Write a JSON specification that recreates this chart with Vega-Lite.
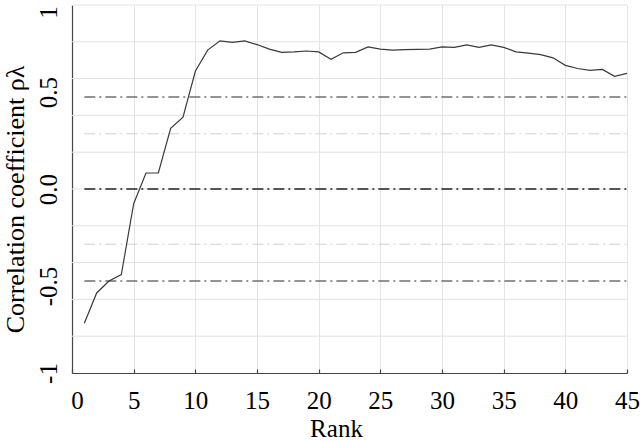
{
  "$schema": "https://vega.github.io/schema/vega-lite/v6.json",
  "width": 555,
  "height": 368,
  "autosize": {"type": "none"},
  "padding": {"left": 72, "top": 5, "right": 13, "bottom": 68},
  "background": "white",
  "view": {"stroke": null},
  "config": {
    "font": "'Liberation Serif', 'DejaVu Serif'",
    "axis": {"labelFont": "'Liberation Serif', 'DejaVu Serif'", "titleFont": "'Liberation Serif', 'DejaVu Serif'", "labelColor": "black", "titleColor": "black", "titleFontWeight": "normal"}
  },
  "datasets": {
    "curve": [
      {"rank": 1, "rho": -0.73}, {"rank": 2, "rho": -0.565}, {"rank": 3, "rho": -0.5},
      {"rank": 4, "rho": -0.465}, {"rank": 5, "rho": -0.08}, {"rank": 6, "rho": 0.087},
      {"rank": 7, "rho": 0.087}, {"rank": 8, "rho": 0.33}, {"rank": 9, "rho": 0.39},
      {"rank": 10, "rho": 0.64}, {"rank": 11, "rho": 0.755}, {"rank": 12, "rho": 0.805},
      {"rank": 13, "rho": 0.797}, {"rank": 14, "rho": 0.805}, {"rank": 15, "rho": 0.785},
      {"rank": 16, "rho": 0.76}, {"rank": 17, "rho": 0.743}, {"rank": 18, "rho": 0.745},
      {"rank": 19, "rho": 0.75}, {"rank": 20, "rho": 0.745}, {"rank": 21, "rho": 0.705},
      {"rank": 22, "rho": 0.74}, {"rank": 23, "rho": 0.743}, {"rank": 24, "rho": 0.772},
      {"rank": 25, "rho": 0.76}, {"rank": 26, "rho": 0.755}, {"rank": 27, "rho": 0.758},
      {"rank": 28, "rho": 0.759}, {"rank": 29, "rho": 0.76}, {"rank": 30, "rho": 0.772},
      {"rank": 31, "rho": 0.77}, {"rank": 32, "rho": 0.783}, {"rank": 33, "rho": 0.77},
      {"rank": 34, "rho": 0.783}, {"rank": 35, "rho": 0.77}, {"rank": 36, "rho": 0.745},
      {"rank": 37, "rho": 0.738}, {"rank": 38, "rho": 0.73}, {"rank": 39, "rho": 0.713},
      {"rank": 40, "rho": 0.672}, {"rank": 41, "rho": 0.655}, {"rank": 42, "rho": 0.645},
      {"rank": 43, "rho": 0.65}, {"rank": 44, "rho": 0.612}, {"rank": 45, "rho": 0.628}
    ],
    "hgrid": [
      {"y": -0.8}, {"y": -0.6}, {"y": -0.4}, {"y": -0.2}, {"y": 0},
      {"y": 0.2}, {"y": 0.4}, {"y": 0.6}, {"y": 0.8}, {"y": 1}
    ],
    "darkRefs": [{"y": 0.5, "x1": 1, "x2": 45}, {"y": -0.5, "x1": 1, "x2": 45}],
    "zeroRef": [{"y": 0, "x1": 1, "x2": 45}],
    "lightRefs": [{"y": 0.3, "x1": 1, "x2": 45}, {"y": -0.3, "x1": 1, "x2": 45}]
  },
  "layer": [
    {
      "data": {"name": "hgrid"},
      "mark": {"type": "rule", "color": "#e3e3e3", "strokeWidth": 1},
      "encoding": {
        "y": {"field": "y", "type": "quantitative", "scale": {"domain": [-1, 1], "nice": false}}
      }
    },
    {
      "data": {"name": "lightRefs"},
      "mark": {"type": "rule", "color": "#cfcfcf", "strokeWidth": 1, "strokeDash": [11, 4, 2, 4]},
      "encoding": {
        "y": {"field": "y", "type": "quantitative"},
        "x": {"field": "x1", "type": "quantitative", "scale": {"domain": [0, 45], "nice": false}},
        "x2": {"field": "x2"}
      }
    },
    {
      "data": {"name": "darkRefs"},
      "mark": {"type": "rule", "color": "#707070", "strokeWidth": 1.5, "strokeDash": [11, 4, 2, 4]},
      "encoding": {
        "y": {"field": "y", "type": "quantitative"},
        "x": {"field": "x1", "type": "quantitative"},
        "x2": {"field": "x2"}
      }
    },
    {
      "data": {"name": "zeroRef"},
      "mark": {"type": "rule", "color": "#555555", "strokeWidth": 2, "strokeDash": [11, 4, 2, 4]},
      "encoding": {
        "y": {"field": "y", "type": "quantitative"},
        "x": {"field": "x1", "type": "quantitative"},
        "x2": {"field": "x2"}
      }
    },
    {
      "data": {"name": "curve"},
      "mark": {"type": "line", "color": "#3a3a3a", "strokeWidth": 1.2},
      "encoding": {
        "x": {
          "field": "rank", "type": "quantitative", "title": "Rank",
          "axis": {
            "values": [0, 5, 10, 15, 20, 25, 30, 35, 40, 45],
            "grid": true, "gridColor": "#e3e3e3", "gridWidth": 1,
            "domainColor": "#444444", "domainWidth": 1.2,
            "ticks": true, "tickSize": -4, "tickColor": "#444444", "tickWidth": 1.2,
            "labelFontSize": 25, "labelBaseline": "alphabetic", "labelPadding": 39,
            "labelOffset": {"condition": {"test": "datum.value == 0", "value": 5}, "value": 0},
            "labelFlush": false, "labelOverlap": false,
            "titleFontSize": 25, "titleX": 264, "titleY": 63, "titleBaseline": "alphabetic", "titleAlign": "center"
          }
        },
        "y": {
          "field": "rho", "type": "quantitative", "title": "Correlation coefficient ρλ",
          "axis": {
            "values": [-1, -0.5, 0, 0.5, 1],
            "grid": false,
            "domainColor": "#444444", "domainWidth": 1.2,
            "ticks": false,
            "labelExpr": "abs(datum.value) < 0.01 ? '0.0' : replace(format(datum.value, '.1~f'), '\u2212', '-')",
            "labelFontSize": 25, "labelAngle": -90, "labelAlign": "center", "labelBaseline": "alphabetic", "labelPadding": 16,
            "labelOffset": {"condition": [{"test": "datum.value == 1", "value": 7}, {"test": "datum.value == 0.5", "value": -5}, {"test": "datum.value == -0.5", "value": 5}], "value": 0},
            "labelFlush": false, "labelOverlap": false,
            "titleFontSize": 26, "titleAngle": -90, "titleX": -49, "titleY": 194, "titleBaseline": "alphabetic", "titleAlign": "center"
          }
        }
      }
    }
  ]
}
